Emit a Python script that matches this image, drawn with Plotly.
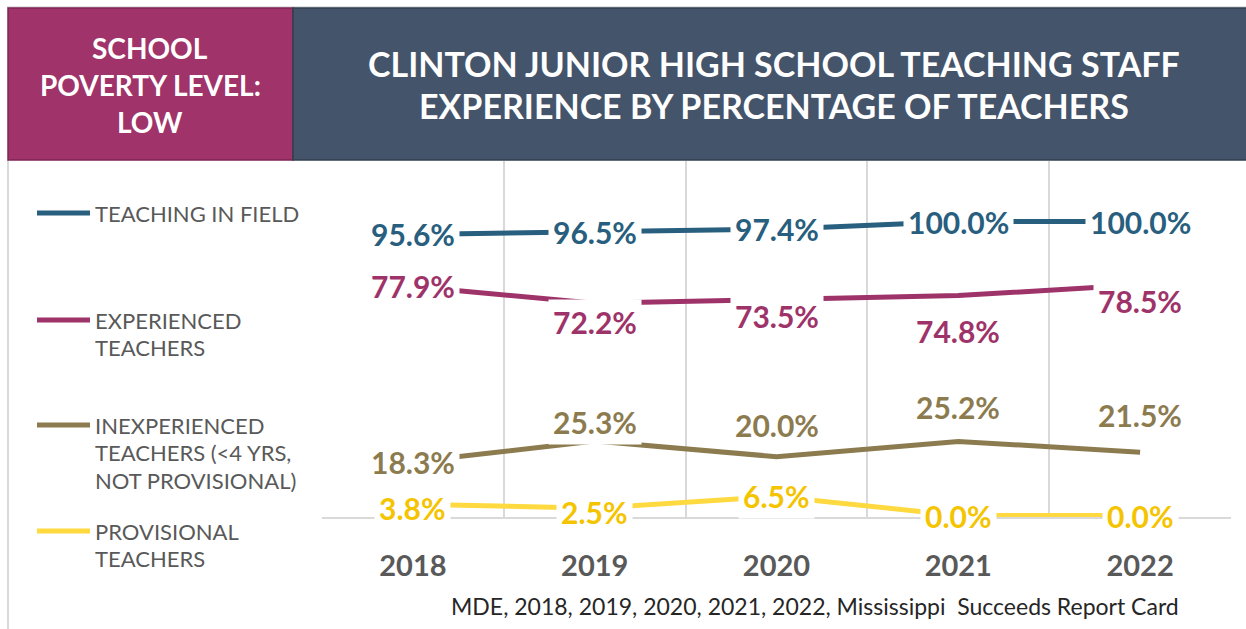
import plotly.graph_objects as go

# ---------------- data ----------------
years = ["2018", "2019", "2020", "2021", "2022"]
teaching_in_field = [95.6, 96.5, 97.4, 100.0, 100.0]
experienced = [77.9, 72.2, 73.5, 74.8, 78.5]
inexperienced = [18.3, 25.3, 20.0, 25.2, 21.5]
provisional = [3.8, 2.5, 6.5, 0.0, 0.0]

series_names = ["TEACHING IN FIELD", "EXPERIENCED TEACHERS",
                "INEXPERIENCED TEACHERS (<4 YRS, NOT PROVISIONAL)", "PROVISIONAL TEACHERS"]
legend_lines = [["TEACHING IN FIELD"],
                ["EXPERIENCED", "TEACHERS"],
                ["INEXPERIENCED", "TEACHERS (&lt;4 YRS,", "NOT PROVISIONAL)"],
                ["PROVISIONAL", "TEACHERS"]]
header_left = ["SCHOOL", "POVERTY LEVEL:", "LOW"]
header_title = ["CLINTON JUNIOR HIGH SCHOOL TEACHING STAFF",
                "EXPERIENCE BY PERCENTAGE OF TEACHERS"]
source_text = "MDE, 2018, 2019, 2020, 2021, 2022, Mississippi&nbsp; Succeeds Report Card"

# ---------------- style ----------------
line_colors = ["#285E7E", "#9E3369", "#8C7B4F", "#FFD940"]
label_colors = ["#285E7E", "#9E3369", "#8C7B4F", "#F5C400"]
# label vertical pixel offsets (positive = up)
label_shift = [
    [0, 0, 0, 0, 0],
    [0, -19, -17, -35, -16],
    [0, 19, 32, 34, 37],
    [-4, -4, 0, 0, 0],
]
FONT = "Lato, 'Open Sans', sans-serif"

W, H = 1246, 629
L, R, T, B = 322, 1231, 161, 517
ZERO_PX, PX_PER_UNIT = 515.5, 2.94
y_lo = -(B - ZERO_PX) / PX_PER_UNIT
y_hi = (ZERO_PX - T) / PX_PER_UNIT


def px(x):
    return (x - L) / (R - L)


def py(y):
    return (B - y) / (B - T)


series = [teaching_in_field, experienced, inexperienced, provisional]
xpos = list(range(len(years)))

fig = go.Figure()
for name, vals, col in zip(series_names, series, line_colors):
    fig.add_trace(go.Scatter(x=xpos, y=vals, mode="lines", name=name,
                             line=dict(color=col, width=5), showlegend=False,
                             hoverinfo="skip"))

annotations = []
# data labels
for vals, col, shifts in zip(series, label_colors, label_shift):
    for xi, v, s in zip(xpos, vals, shifts):
        annotations.append(dict(x=xi, y=v, xref="x", yref="y", text=f"<b>{v:.1f}%</b>",
                                showarrow=False, yshift=s, bgcolor="white", borderpad=4,
                                xanchor="center", yanchor="middle",
                                font=dict(family=FONT, size=30, color=col)))

shapes = []
# outer frame lines
shapes.append(dict(type="line", xref="paper", yref="paper", x0=px(8), x1=px(8),
                   y0=py(160), y1=py(629), line=dict(color="#D9D9D9", width=2), layer="above"))
shapes.append(dict(type="line", xref="paper", yref="paper", x0=px(7), x1=px(1246),
                   y0=py(7), y1=py(7), line=dict(color="#D9D9D9", width=1.5), layer="above"))
# header boxes
shapes.append(dict(type="rect", xref="paper", yref="paper", x0=px(8), x1=px(293),
                   y0=py(160), y1=py(8), fillcolor="#A03369",
                   line=dict(color="#7E2552", width=1.5), layer="above"))
shapes.append(dict(type="rect", xref="paper", yref="paper", x0=px(293), x1=px(1247),
                   y0=py(160), y1=py(8), fillcolor="#44546A",
                   line=dict(color="#333F50", width=1.5), layer="above"))

# header texts
for i, t in enumerate(header_left):
    annotations.append(dict(x=px(150), y=py(48 + 37 * i), xref="paper", yref="paper",
                            text=f"<b>{t}</b>", showarrow=False, xanchor="center",
                            yanchor="middle",
                            font=dict(family=FONT, size=28, color="white")))
for i, t in enumerate(header_title):
    annotations.append(dict(x=px(774), y=py(64 + 42 * i), xref="paper", yref="paper",
                            text=f"<b>{t}</b>", showarrow=False, xanchor="center",
                            yanchor="middle",
                            font=dict(family=FONT, size=34, color="white")))

# legend
legend_y = [213, 320, 425, 531]
for lines, col, y0 in zip(legend_lines, line_colors, legend_y):
    shapes.append(dict(type="line", xref="paper", yref="paper", x0=px(37), x1=px(90),
                       y0=py(y0), y1=py(y0), line=dict(color=col, width=5)))
    for j, t in enumerate(lines):
        annotations.append(dict(x=px(93), y=py(y0 + 27.5 * j), xref="paper", yref="paper",
                                text=t, showarrow=False, xanchor="left", yanchor="middle",
                                font=dict(family=FONT, size=22, color="#595959")))

# source
annotations.append(dict(x=px(815), y=py(606), xref="paper", yref="paper", text=source_text,
                        showarrow=False, xanchor="center", yanchor="middle",
                        font=dict(family=FONT, size=23, color="#262626")))

fig.update_layout(
    width=W, height=H,
    margin=dict(l=L, r=W - R, t=T, b=H - B, pad=0),
    paper_bgcolor="white", plot_bgcolor="white",
    annotations=annotations, shapes=shapes,
    xaxis=dict(range=[-0.5, len(years) - 0.5], tickmode="array", tickvals=xpos,
               ticktext=[f"<b>{y}</b>" for y in years],
               showgrid=False, zeroline=False,
               minor=dict(tickmode="linear", tick0=-0.5, dtick=1, showgrid=True,
                          gridcolor="#D9D9D9", gridwidth=2, ticks=""),
               showline=True, linecolor="#D9D9D9", linewidth=2, mirror=False,
               ticks="", ticklabelstandoff=22,
               tickfont=dict(family=FONT, size=29, color="#595959"), fixedrange=True),
    yaxis=dict(range=[y_lo, y_hi], showgrid=False, zeroline=False, showticklabels=False,
               showline=False, fixedrange=True),
    font=dict(family=FONT),
)

fig.write_html("out.html", config={"displayModeBar": False},
               post_script="document.body.style.margin='0';")
